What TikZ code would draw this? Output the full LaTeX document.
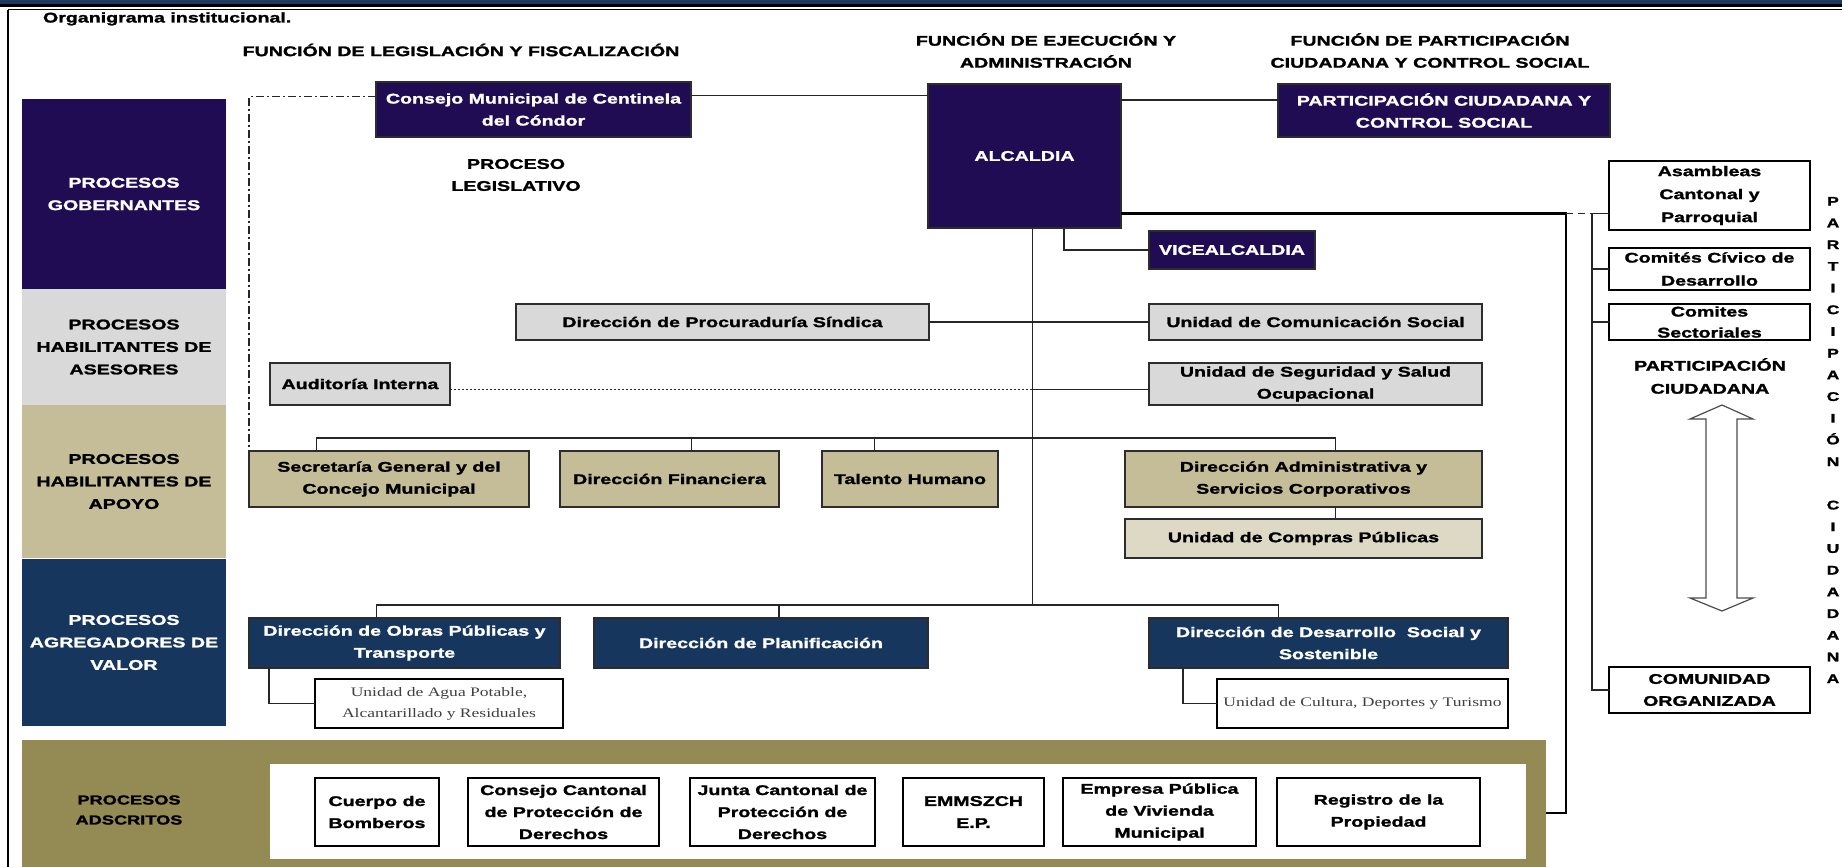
\documentclass[tikz,border=0pt]{standalone}
\usepackage{fontspec}
\setmainfont{Liberation Sans}[FakeStretch=1.4, BoldFeatures={FakeBold=1.6}]
\newfontfamily\srf{Liberation Serif}[FakeStretch=1.35]
\usetikzlibrary{calc}
\definecolor{indigo}{RGB}{32,12,82}
\definecolor{navyv}{RGB}{23,54,93}
\definecolor{topnavy}{RGB}{31,56,96}
\definecolor{grayb}{RGB}{217,217,217}
\definecolor{beige}{RGB}{196,189,151}
\definecolor{lbeige}{RGB}{221,217,196}
\definecolor{olivef}{RGB}{148,138,84}
\definecolor{boxline}{RGB}{45,45,45}
\begin{document}
\begin{tikzpicture}[x=1pt,y=-1pt,
  every node/.style={inner sep=0pt, outer sep=0pt},
  lbl/.style={font=\fontsize{14}{22}\selectfont\bfseries, align=center},
  box/.style={draw=boxline, line width=1.3pt, align=center, font=\fontsize{14}{22}\selectfont\bfseries},
  side/.style={align=center, font=\fontsize{14}{22.5}\selectfont\bfseries, minimum width=204},
  conn/.style={draw=black!85, line width=1.2pt},
  thickln/.style={draw=black, line width=2.8pt},
  serifbox/.style={draw=black, line width=1.3pt, fill=white, align=center, text=black!75, font=\srf\fontsize{13}{21}\selectfont}
]
\useasboundingbox (0,0) rectangle (1842,867);
\fill[white] (0,0) rectangle (1842,867);
% top frame
\fill[topnavy] (0,0) rectangle (1842,4.2);
\draw[line width=2.6pt] (0,5.5) -- (1842,5.5);
\draw[line width=1.3pt] (8,9.8) -- (1842,9.8);
\draw[line width=1.3pt] (8,9.8) -- (8,867);

\node[lbl, anchor=base west] (title) at (43,22.5) {Organigrama institucional.};
\node[lbl] (hleg) at (461,50) {FUNCIÓN DE LEGISLACIÓN Y FISCALIZACIÓN};
\node[lbl] (heje) at (1046,50.5) {FUNCIÓN DE EJECUCIÓN Y\\ADMINISTRACIÓN};
\node[lbl] (hpar) at (1430,50.5) {FUNCIÓN DE PARTICIPACIÓN\\CIUDADANA Y CONTROL SOCIAL};

% sidebar
\node[side, fill=indigo, text=white, minimum height=190] (gob) at (124,194) {PROCESOS\\GOBERNANTES};
\node[side, fill=grayb, minimum height=116] (ases) at (124,347) {PROCESOS\\HABILITANTES DE\\ASESORES};
\node[side, fill=beige, minimum height=153] (apoyo) at (124,481.5) {PROCESOS\\HABILITANTES DE\\APOYO};
\node[side, fill=navyv, text=white, minimum height=167] (valor) at (124,642.5) {PROCESOS\\AGREGADORES DE\\VALOR};

% adscritos frame
\node[fill=olivef, minimum width=1524, minimum height=127] (adsc) at (784,803.5) {};
\node[fill=white, minimum width=1256, minimum height=95] (adscin) at (898,811.5) {};
\node[align=center, font=\fontsize{13}{20}\selectfont\bfseries] (adsclbl) at (129,810) {PROCESOS\\ADSCRITOS};

% top boxes
\node[box, fill=indigo, text=white, minimum width=315, minimum height=55] (consejo) at (533.5,109.5) {Consejo Municipal de Centinela\\del Cóndor};
\node[lbl] (legis) at (516,175) {PROCESO\\LEGISLATIVO};
\node[box, fill=indigo, text=white, minimum width=193, minimum height=144] (alcaldia) at (1024.5,156) {ALCALDIA};
\node[box, fill=indigo, text=white, minimum width=332, minimum height=53] (partbox) at (1444,110.5) {PARTICIPACIÓN CIUDADANA Y\\CONTROL SOCIAL};
\node[box, fill=indigo, text=white, minimum width=166, minimum height=38] (vice) at (1232,250) {VICEALCALDIA};

% asesores
\node[box, fill=grayb, minimum width=413, minimum height=36] (procur) at (722.5,322) {Dirección de Procuraduría Síndica};
\node[box, fill=grayb, minimum width=333, minimum height=36] (comun) at (1315.5,322) {Unidad de Comunicación Social};
\node[box, fill=grayb, minimum width=180, minimum height=42] (audit) at (360,384) {Auditoría Interna};
\node[box, fill=grayb, minimum width=333, minimum height=42] (segur) at (1315.5,384) {Unidad de Seguridad y Salud\\Ocupacional};

% apoyo
\node[box, fill=beige, minimum width=280, minimum height=56] (secre) at (389,479) {Secretaría General y del\\Concejo Municipal};
\node[box, fill=beige, minimum width=219, minimum height=56] (finan) at (669.5,479) {Dirección Financiera};
\node[box, fill=beige, minimum width=176, minimum height=56] (talento) at (910,479) {Talento Humano};
\node[box, fill=beige, minimum width=357, minimum height=56] (admin) at (1303.5,479) {Dirección Administrativa y\\Servicios Corporativos};
\node[box, fill=lbeige, minimum width=357, minimum height=39] (compras) at (1303.5,538.5) {Unidad de Compras Públicas};

% valor
\node[box, fill=navyv, text=white, minimum width=311, minimum height=50] (obras) at (404.5,643) {Dirección de Obras Públicas y\\Transporte};
\node[box, fill=navyv, text=white, minimum width=334, minimum height=50] (planif) at (761,643) {Dirección de Planificación};
\node[box, fill=navyv, text=white, minimum width=359, minimum height=50] (desarr) at (1328.5,643) {Dirección de Desarrollo\ \ Social y\\Sostenible};
\node[serifbox, minimum width=248, minimum height=49] (agua) at (439,703.5) {Unidad de Agua Potable,\\Alcantarillado y Residuales};
\node[serifbox, minimum width=291, minimum height=49] (cultura) at (1362.5,703.5) {Unidad de Cultura, Deportes y Turismo};

% adscritos boxes
\node[box, draw=black, fill=white, minimum width=124, minimum height=68] (cuerpo) at (377,812) {Cuerpo de\\Bomberos};
\node[box, draw=black, fill=white, minimum width=191, minimum height=68] (ccant) at (563.5,812) {Consejo Cantonal\\de Protección de\\Derechos};
\node[box, draw=black, fill=white, minimum width=185, minimum height=68] (junta) at (782.5,812) {Junta Cantonal de\\Protección de\\Derechos};
\node[box, draw=black, fill=white, minimum width=141, minimum height=68] (emm) at (973.5,812) {EMMSZCH\\E.P.};
\node[box, draw=black, fill=white, minimum width=193, minimum height=68] (empresa) at (1159.5,812) {Empresa Pública\\de Vivienda\\Municipal};
\node[box, draw=black, fill=white, minimum width=203, minimum height=68] (registro) at (1378.5,812) {Registro de la\\Propiedad};

% participacion ciudadana column
\node[box, draw=black, fill=white, minimum width=201, minimum height=69, font=\fontsize{14}{23}\selectfont\bfseries] (asamb) at (1709.5,195.5) {Asambleas\\Cantonal y\\Parroquial};
\node[box, draw=black, fill=white, minimum width=201, minimum height=42, font=\fontsize{14}{23}\selectfont\bfseries] (civico) at (1709.5,269) {Comités Cívico de\\Desarrollo};
\node[box, draw=black, fill=white, minimum width=201, minimum height=36, font=\fontsize{14}{21}\selectfont\bfseries] (sector) at (1709.5,322) {Comites\\Sectoriales};
\node[box, draw=black, fill=white, minimum width=201, minimum height=46, font=\fontsize{14}{22}\selectfont\bfseries] (comunid) at (1709.5,690) {COMUNIDAD\\ORGANIZADA};
\node[lbl, font=\fontsize{14}{23}\selectfont\bfseries] (pcl) at (1710,376) {PARTICIPACIÓN\\CIUDADANA};
\node[align=center, font=\fontsize{12.5}{21.7}\selectfont\bfseries] (vtext) at (1833,440) {P\\A\\R\\T\\I\\C\\I\\P\\A\\C\\I\\Ó\\N\\~\\C\\I\\U\\D\\A\\D\\A\\N\\A};
\draw[draw=black!70, line width=1.2pt, fill=white] (1722,405) -- (1753,419) -- (1737,419) -- (1737,598) -- (1753,598) -- (1722,611) -- (1690,598) -- (1706,598) -- (1706,419) -- (1690,419) -- cycle;

% ---------- connectors
\coordinate (c1) at ($(consejo.north east)!.25!(consejo.south east)$);
\draw[conn] (c1) -- (c1 -| alcaldia.west);
\coordinate (c2) at ($(partbox.north west)!.3!(partbox.south west)$);
\draw[conn] (c2 -| alcaldia.east) -- (c2);
\coordinate (c3) at ($(consejo.north west)!.27!(consejo.south west)$);
\draw[conn, dash pattern=on 8pt off 3pt on 2pt off 3pt] (c3) -| (secre.north west);
\coordinate (v1) at ($(alcaldia.south west)!.705!(alcaldia.south east)$);
\draw[conn] (v1) |- (vice.west);
\coordinate (t) at ($(alcaldia.south west)!.54!(alcaldia.south east)$);
\coordinate (ab) at (t |- 0,438);
\coordinate (vb) at (t |- 0,605);
\draw[conn] (t) -- (vb);
\draw[conn] (procur.east) -- (comun.west);
\coordinate (s2) at ($(segur.north west)!.64!(segur.south west)$);
\coordinate (a2) at ($(audit.north east)!.64!(audit.south east)$);
\draw[conn, dash pattern=on 2pt off 2pt] (a2) -- (a2 -| t);
\draw[conn] (s2 -| t) -- (s2);
% apoyo bus
\coordinate (s1) at ($(secre.north west)!.24!(secre.north east)$);
\coordinate (f1) at ($(finan.north west)!.6!(finan.north east)$);
\coordinate (h1) at ($(talento.north west)!.3!(talento.north east)$);
\coordinate (a1) at ($(admin.north west)!.59!(admin.north east)$);
\draw[conn] (s1) -- (s1 |- ab) -- (a1 |- ab) -- (a1);
\draw[conn] (f1) -- (f1 |- ab);
\draw[conn] (h1) -- (h1 |- ab);
\draw[conn] (a1 |- admin.south) -- (a1 |- compras.north);
% valor bus
\coordinate (o1) at ($(obras.north west)!.41!(obras.north east)$);
\coordinate (p1) at ($(planif.north west)!.554!(planif.north east)$);
\coordinate (d1) at ($(desarr.north west)!.36!(desarr.north east)$);
\draw[conn] (o1) -- (o1 |- vb) -- (d1 |- vb) -- (d1);
\draw[conn] (p1) -- (p1 |- vb);
\coordinate (o2) at ($(obras.south west)!.064!(obras.south east)$);
\draw[conn, line width=1.5pt] (o2) |- (agua.west);
\coordinate (d2) at ($(desarr.south west)!.095!(desarr.south east)$);
\draw[conn, line width=1.5pt] (d2) |- (cultura.west);
% thick line to adscritos and participacion column
\coordinate (k1) at ($(alcaldia.north east)!.9!(alcaldia.south east)$);
\coordinate (k2) at (k1 -| 1566,0);
\coordinate (k3) at (adsc.east |- 0,813);
\draw[thickln] (k1) -- (k2) -- (k2 |- k3) -- (k3);
\coordinate (pv) at (k2 -| 1592,0);
\draw[conn, dash pattern=on 7pt off 5pt] (k2) -- (pv);
\draw[conn] (pv) -- (pv -| asamb.west);
\draw[conn] (pv) |- (comunid.west);
\draw[conn] (pv |- civico.west) -- (civico.west);
\draw[conn] (pv |- sector.west) -- (sector.west);
\end{tikzpicture}
\end{document}
